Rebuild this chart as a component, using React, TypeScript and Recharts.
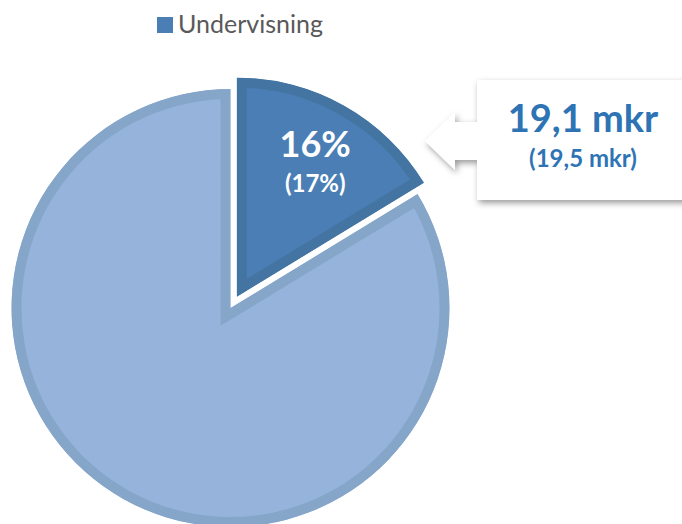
import { PieChart, Pie, Legend, Sector } from 'recharts';

// Values
const categories = ['Undervisning', 'Övrigt'];
const values = [19.1, 98.1];
const shareLabels = ['16%', ''];
const prevShareLabels = ['(17%)', ''];
const amountLabels = ['19,1 mkr'];
const prevAmountLabels = ['(19,5 mkr)'];

const FILLS = ['#4A7EB4', '#95B3DB'];
const BORDERS = ['#4475A2', '#85A6C8'];
const EXPLODE = [13, 0];
const BORDER = 10;
const TEXT_BLUE = '#2E74B5';
const FONT = 'Lato, "Open Sans", sans-serif';
const RAD = Math.PI / 180;

const data = categories.map((name, i) => ({ name, value: values[i] }));

// draws each slice (exploded, with an inside border) from the pie's own sector geometry
const renderSlice = (props: any) => {
  const { cx, cy, outerRadius, startAngle, endAngle, index } = props;
  const mid = (startAngle + endAngle) / 2;
  const ox = cx + EXPLODE[index] * Math.cos(-mid * RAD);
  const oy = cy + EXPLODE[index] * Math.sin(-mid * RAD);
  const sector = { cx: ox, cy: oy, innerRadius: 0, outerRadius, startAngle, endAngle };
  const tx = ox + 160 * Math.cos(-mid * RAD);
  const ty = oy + 160 * Math.sin(-mid * RAD);
  const clipId = `slice-clip-${index}`;
  return (
    <g key={clipId}>
      <defs>
        <clipPath id={clipId}>
          <Sector {...sector} />
        </clipPath>
      </defs>
      <g clipPath={`url(#${clipId})`}>
        <Sector {...sector} fill={FILLS[index]} stroke={BORDERS[index]} strokeWidth={BORDER * 2} />
      </g>
      {shareLabels[index] && (
        <text x={tx} y={ty} textAnchor="middle" fill="#fff" fontSize={36} fontWeight={700} fontFamily={FONT}>
          {shareLabels[index]}
        </text>
      )}
      {prevShareLabels[index] && (
        <text x={tx} y={ty + 35} textAnchor="middle" fill="#fff" fontSize={24} fontWeight={700} fontFamily={FONT}>
          {prevShareLabels[index]}
        </text>
      )}
    </g>
  );
};

const renderLegend = () => (
  <div style={{ display: 'flex', alignItems: 'center', fontFamily: FONT, fontSize: 25, color: '#595959', whiteSpace: 'nowrap' }}>
    <span style={{ display: 'inline-block', width: 16, height: 16, background: FILLS[0], marginRight: 5, marginTop: 3 }} />
    {categories[0]}
  </div>
);

export default function App() {
  return (
    <div style={{ position: 'absolute', left: 0, top: 0, width: 682, height: 524, background: '#fff', overflow: 'hidden' }}>
      <PieChart width={682} height={524} margin={{ top: 0, right: 0, bottom: 0, left: 0 }}>
        <Legend
          layout="horizontal"
          verticalAlign="middle"
          align="center"
          content={renderLegend}
          wrapperStyle={{ top: 8, left: 157, width: 'auto', height: 'auto' }}
        />
        <Pie
          data={data}
          dataKey="value"
          nameKey="name"
          cx={230.5}
          cy={308}
          outerRadius={219}
          startAngle={90}
          endAngle={-270}
          fill="none"
          stroke="none"
          label={renderSlice}
          labelLine={false}
          isAnimationActive={false}
        />
      </PieChart>
      <svg width={682} height={524} style={{ position: 'absolute', left: 0, top: 0, pointerEvents: 'none' }}>
        <defs>
          <filter id="callout-shadow" x="-20%" y="-20%" width="140%" height="150%">
            <feDropShadow dx={2} dy={3} stdDeviation={3} floodColor="#000" floodOpacity={0.4} />
          </filter>
        </defs>
        <path
          d="M477,80 H700 V200 H477 V160 H455 V170 L425,141 L455,112 V122 H477 Z"
          fill="#fff"
          filter="url(#callout-shadow)"
        />
        <text x={583} y={132} textAnchor="middle" fill={TEXT_BLUE} fontSize={38} fontWeight={700} fontFamily={FONT}>
          {amountLabels[0]}
        </text>
        <text x={583} y={167} textAnchor="middle" fill={TEXT_BLUE} fontSize={24} fontWeight={700} fontFamily={FONT}>
          {prevAmountLabels[0]}
        </text>
      </svg>
    </div>
  );
}
